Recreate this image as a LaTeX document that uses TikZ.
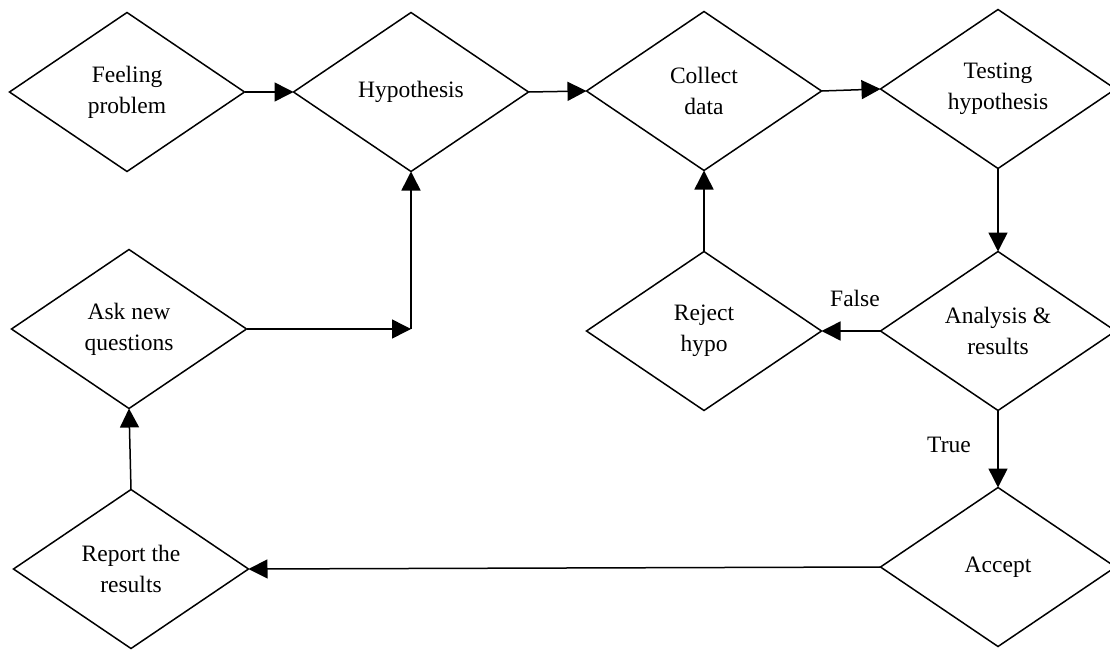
\documentclass[tikz,border=0pt]{standalone}
\usepackage{fontspec}
\setmainfont{Liberation Serif}
\usetikzlibrary{shapes.geometric,arrows.meta}
\tikzset{
  dia/.style={shape=diamond, draw=black, line width=1.5pt, inner sep=0pt, outer sep=0pt,
    minimum width=235pt, minimum height=159pt, align=center,
    font=\fontsize{23.5}{31}\selectfont},
  conn/.style={line width=1.5pt, -{Triangle[length=19pt,width=19pt]}},
  lbl/.style={font=\fontsize{23.5}{28}\selectfont, inner sep=0pt}
}
\begin{document}
\begin{tikzpicture}[x=1pt,y=-1pt]
\useasboundingbox (0,0) rectangle (1110,650);
\clip (0,0) rectangle (1110,650);
\fill[white] (0,0) rectangle (1110,650);
\node[dia] (fp) at (127,92) {Feeling\\problem};
\node[dia] (hy) at (411,92) {Hypothesis};
\node[dia] (cd) at (704,91) {Collect\\data};
\node[dia] (th) at (998,89) {Testing\\hypothesis};
\node[dia] (ar) at (998,331) {Analysis \&\\results};
\node[dia] (rh) at (704,331) {Reject\\hypo};
\node[dia] (aq) at (129,329) {Ask new\\questions};
\node[dia] (rr) at (131,569) {Report the\\results};
\node[dia] (ac) at (998,567) {Accept};
\coordinate (j) at (411,329);
\draw[conn] (fp.east) -- (hy.west);
\draw[conn] (hy.east) -- (cd.west);
\draw[conn] (cd.east) -- (th.west);
\draw[conn] (th.south) -- (ar.north);
\draw[conn] (ar.west) -- (rh.east);
\draw[conn] (rh.north) -- (cd.south);
\draw[conn] (ar.south) -- (ac.north);
\draw[conn] (ac.west) -- (rr.east);
\draw[conn] (rr.north) -- (aq.south);
\draw[conn] (aq.east) -- (j);
\draw[conn] (j) -- (hy.south);
\node[lbl] (lf) at (855,298) {False};
\node[lbl] (lt) at (949,445) {True};
\end{tikzpicture}
\end{document}
